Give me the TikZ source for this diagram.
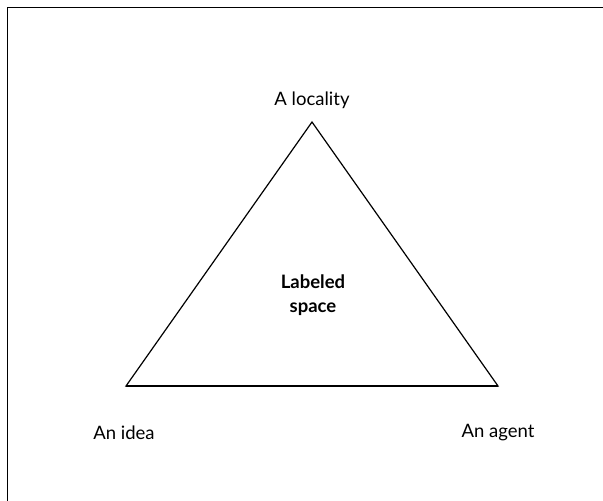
\documentclass[tikz,border=0pt]{standalone}
\usepackage{fontspec}
\setmainfont{Lato}
\begin{document}
\begin{tikzpicture}[x=1pt,y=-1pt,
  lbl/.style={font=\fontsize{18.5}{22}\selectfont, inner sep=0pt},
  edge/.style={line width=1.2pt}]
\useasboundingbox (0,0) rectangle (603,501);
\fill[white] (0,0) rectangle (603,501);
\draw[line width=1.8pt] (7.5,501) -- (7.5,7.5) -- (603,7.5);
\coordinate (top) at (312,122);
\coordinate (bl) at (126,386);
\coordinate (br) at (498,386);
\draw[edge, line join=miter] (top) -- (bl) -- (br) -- cycle;
\draw[line width=1.6pt] (bl) -- (br);
\node[lbl] (loc) at (312,100) {A locality};
\node[lbl, font=\fontsize{18.5}{24}\selectfont\bfseries, align=center] (sp) at (313,295) {Labeled\\space};
\node[lbl] (idea) at (124,433) {An idea};
\node[lbl] (agent) at (498,433) {An agent};
\end{tikzpicture}
\end{document}
